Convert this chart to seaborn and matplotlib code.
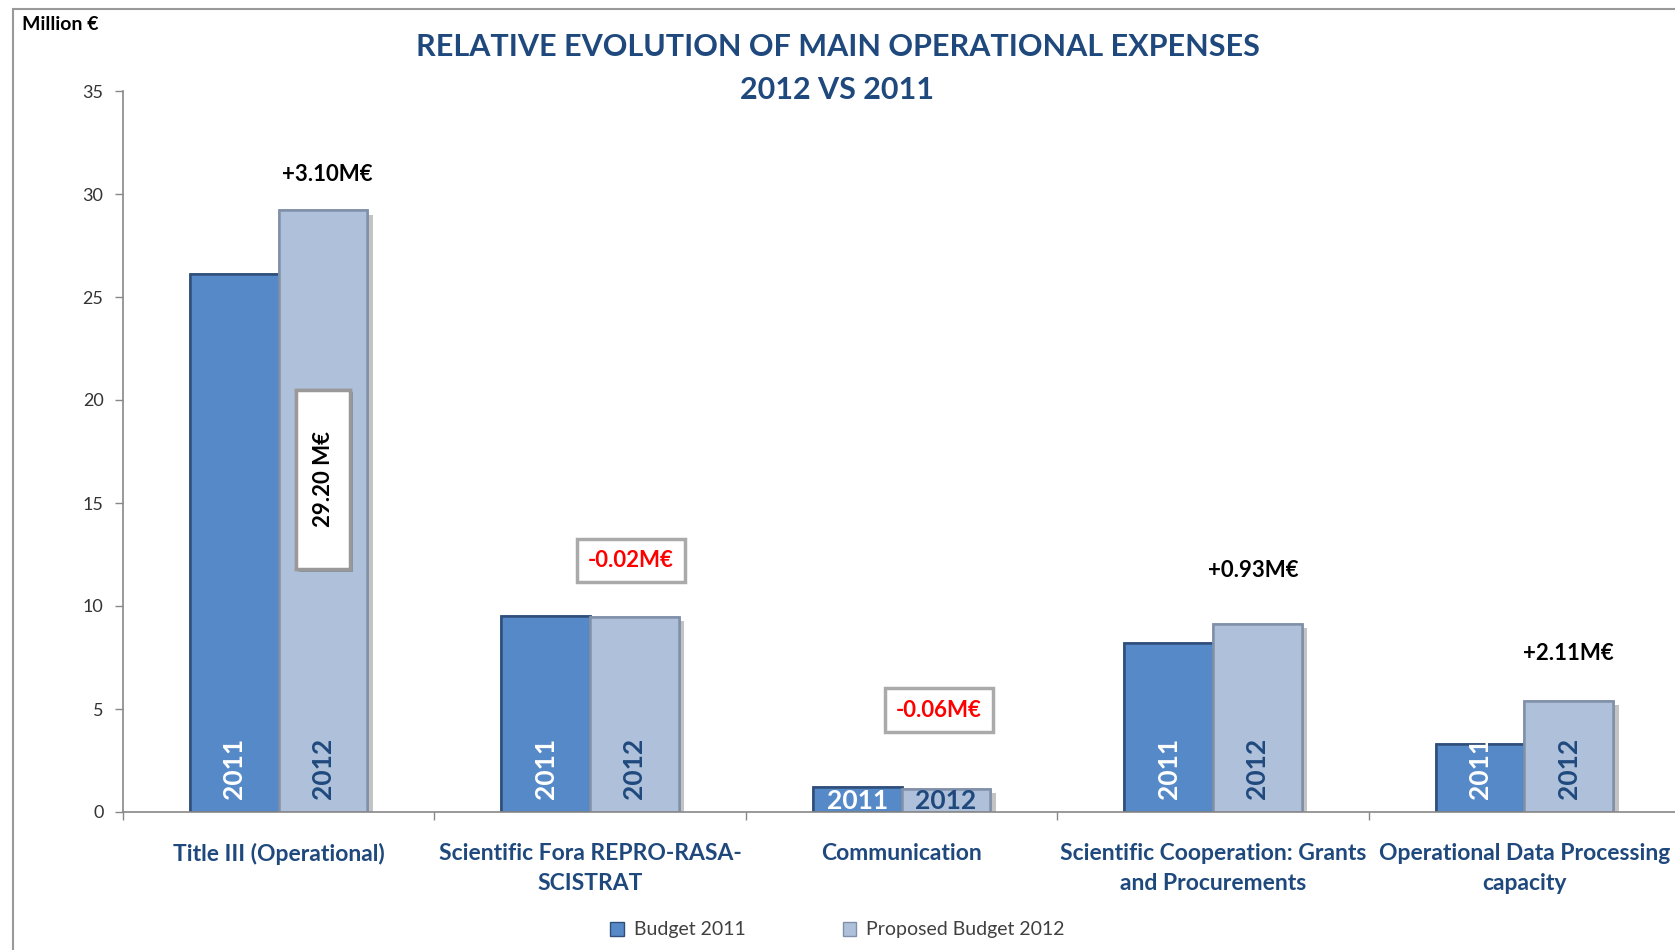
import pandas as pd
import matplotlib.pyplot as plt
import matplotlib.patheffects as pe
from matplotlib.patches import Patch, Rectangle
import seaborn as sns

# values (million euro)
categories = ['Title III (Operational)', 'Scientific Fora REPRO-RASA-\nSCISTRAT',
              'Communication', 'Scientific Cooperation: Grants\nand Procurements',
              'Operational Data Processing\ncapacity']
budget_2011 = [26.10, 9.50, 1.20, 8.20, 3.30]
budget_2012 = [29.20, 9.48, 1.14, 9.13, 5.41]
changes = ['+3.10M€', '-0.02M€', '-0.06M€', '+0.93M€', '+2.11M€']
series = ['Budget 2011', 'Proposed Budget 2012']

df = pd.DataFrame({
    'category': categories * 2,
    'series': [series[0]] * 5 + [series[1]] * 5,
    'value': budget_2011 + budget_2012,
})

dark = '#5689C8'
light = '#AFC1DA'
navy = '#1F497D'

sns.set_theme(style='white')
plt.rcParams['font.family'] = ['Lato', 'DejaVu Sans']

fig = plt.figure(figsize=(16.75, 9.5), dpi=100)
ax = fig.add_axes([123 / 1675, 1 - 812 / 950, 1557 / 1675, 721 / 950])

sns.barplot(data=df, x='category', y='value', hue='series', order=categories,
            hue_order=series, palette=[dark, light], width=0.57, ax=ax,
            legend=False, saturation=1)

shadow = [pe.withSimplePatchShadow(offset=(4, -3), shadow_rgbFace='#888888', alpha=0.5),
          pe.Normal()]
for i, bar in enumerate(ax.patches):
    bar.set_edgecolor('#2F4F7A' if i < 5 else '#8090A8')
    bar.set_linewidth(1.8)
    bar.set_path_effects(shadow)

# year labels inside bars
for i, bar in enumerate(ax.patches):
    cx = bar.get_x() + bar.get_width() / 2
    year = '2011' if i < 5 else '2012'
    col = 'white' if i < 5 else navy
    if i % 5 == 2:
        ax.text(cx, 0.55, year, ha='center', va='center', color=col,
                fontsize=19, fontweight='bold', zorder=5)
    else:
        ax.text(cx, 0.65, year, ha='center', va='bottom', rotation=90,
                color=col, fontsize=19, fontweight='bold', zorder=5)

# total in Title III 2012 bar
bar12 = ax.patches[5]
cx12 = bar12.get_x() + bar12.get_width() / 2
box = Rectangle((cx12 - 0.086, 11.8), 0.172, 8.7, fc='white', ec='#999999',
                lw=2.5, zorder=4,
                path_effects=[pe.withSimplePatchShadow(offset=(2, -2), alpha=0.4),
                              pe.Normal()])
ax.add_patch(box)
ax.text(cx12, 16.15, '29.20 M€', rotation=90, ha='center', va='center',
        fontsize=16, fontweight='bold', color='black', zorder=5)

# change annotations
offsets = [(0.155, 30.97), (0.13, 12.2), (0.12, 4.95), (0.13, 11.7), (0.14, 7.67)]
for k, (txt, (dx, yy)) in enumerate(zip(changes, offsets)):
    if txt.startswith('-'):
        ax.text(k + dx, yy, txt, ha='center', va='center', fontsize=16,
                fontweight='bold', color='#FF0000',
                bbox=dict(boxstyle='square,pad=0.5', fc='white', ec='#AAAAAA', lw=2.5))
    else:
        ax.text(k + dx, yy, txt, ha='center', va='center', fontsize=16,
                fontweight='bold', color='black')

ax.set_xlim(-0.5, 4.5)
ax.set_ylim(0, 35)
ax.set_yticks(range(0, 36, 5))
ax.set_xlabel('')
ax.set_ylabel('')
ax.tick_params(axis='y', length=6, width=1, color='#888888', labelsize=13,
               labelcolor='#333333', direction='out', left=True, pad=8)
ax.set_xticks(range(5))
ax.set_xticklabels(categories, fontsize=16.5, fontweight='bold', color=navy,
                   linespacing=1.55)
ax.tick_params(axis='x', length=0, pad=22)
ax.set_xticks([x - 0.5 for x in range(6)], minor=True)
ax.tick_params(axis='x', which='minor', length=6, width=1, color='#888888',
               direction='out', bottom=True)
for s in ['top', 'right']:
    ax.spines[s].set_visible(False)
for s in ['left', 'bottom']:
    ax.spines[s].set_color('#888888')
    ax.spines[s].set_linewidth(1.2)

fig.text(0.5, 1 - 47 / 950, 'RELATIVE EVOLUTION OF MAIN OPERATIONAL EXPENSES',
         ha='center', va='center', fontsize=22, fontweight='bold', color=navy)
fig.text(0.5, 1 - 90 / 950, '2012 VS 2011', ha='center', va='center',
         fontsize=22, fontweight='bold', color=navy)
fig.text(22 / 1675, 1 - 25 / 950, 'Million €', ha='left', va='center',
         fontsize=14, fontweight='bold', color='black')

# chart frame
fig.patches.append(Rectangle((13 / 1675, -0.1), 1.2, 1.1 - 9 / 950,
                             transform=fig.transFigure, fill=False,
                             ec='#999999', lw=1.5))

handles = [Patch(fc=dark, ec='#2F4F7A'), Patch(fc=light, ec='#8090A8')]
fig.legend(handles, series, loc='center', bbox_to_anchor=(0.5, 1 - 930 / 950),
           ncol=2, frameon=False, fontsize=14, handlelength=0.7,
           handleheight=0.7, handletextpad=0.5, columnspacing=5,
           labelcolor='#404040')

plt.savefig('out.png', dpi=100)
